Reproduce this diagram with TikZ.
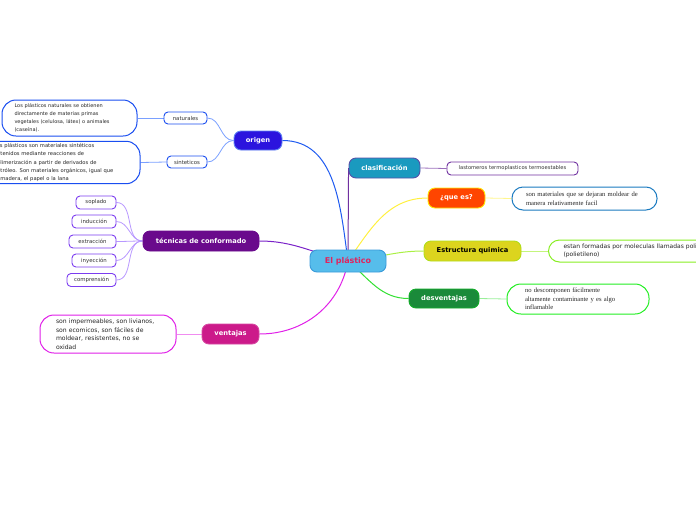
\documentclass[tikz,border=0pt]{standalone}
\usepackage{fontspec}
\setmainfont{DejaVu Sans}
\newfontfamily\serifff{Liberation Serif}
\usetikzlibrary{backgrounds}
\definecolor{cElFill}{HTML}{56BDEB}
\definecolor{cElDraw}{HTML}{3A9AD9}
\definecolor{cElText}{HTML}{E0245E}
\definecolor{cOrig}{HTML}{2B14DE}
\definecolor{cOrigLine}{HTML}{1E5AF0}
\definecolor{cOrigSub}{HTML}{1A4EF0}
\definecolor{cOrigThin}{HTML}{7AA0FF}
\definecolor{cTec}{HTML}{6A0A8C}
\definecolor{cTecLine}{HTML}{7A22C8}
\definecolor{cTecSub}{HTML}{7B3CF0}
\definecolor{cTecThin}{HTML}{B898FF}
\definecolor{cVent}{HTML}{CC1A8A}
\definecolor{cVentLine}{HTML}{E020E8}
\definecolor{cVentThin}{HTML}{F08CF0}
\definecolor{cClas}{HTML}{1A9ABF}
\definecolor{cClasLine}{HTML}{7030A0}
\definecolor{cQue}{HTML}{FF4500}
\definecolor{cQueLine}{HTML}{FFF040}
\definecolor{cQueBox}{HTML}{1A7AC0}
\definecolor{cEst}{HTML}{DCD41E}
\definecolor{cEstLine}{HTML}{AAF044}
\definecolor{cEstBox}{HTML}{88EE22}
\definecolor{cDes}{HTML}{1A8A3A}
\definecolor{cDesLine}{HTML}{33E033}
\definecolor{cDesBox}{HTML}{22EE22}
\tikzset{
  mainnode/.style={rounded corners=7pt, draw, line width=0.9pt, text=white,
    font=\bfseries\fontsize{6.7}{8}\selectfont, inner sep=0pt, minimum height=20pt},
  subnode/.style={rounded corners=4pt, draw, line width=0.9pt, fill=white, text=black!80,
    font=\fontsize{5.4}{6}\selectfont, inner sep=0pt, minimum height=13pt},
  textbox/.style={rounded corners=14pt, draw, line width=1pt, fill=white, text=black!85,
    align=left, inner ysep=2pt},
  link/.style={line width=1pt},
  thin/.style={line width=0.8pt}
}
\begin{document}
\begin{tikzpicture}[x=1pt,y=-1pt]
\useasboundingbox (0,0) rectangle (696,520);
% central
\node[mainnode, fill=cElFill, draw=cElDraw, text=cElText, minimum width=76pt, minimum height=22pt,
  font=\bfseries\fontsize{8}{9}\selectfont] (el) at (348,261) {El plástico};
% left main
\node[mainnode, fill=cOrig, draw=cOrigSub!70, minimum width=48pt, minimum height=19pt] (orig) at (258,140.5) {origen};
\node[mainnode, fill=cTec, draw=cTec, minimum width=116pt] (tec) at (201,241) {técnicas de conformado};
\node[mainnode, fill=cVent, draw=cVent!80!white, minimum width=57pt] (vent) at (230.5,334) {ventajas};
% right main
\node[mainnode, fill=cClas, draw=cClasLine!70!cClas, minimum width=71pt] (clas) at (384.5,168) {clasificación};
\node[mainnode, fill=cQue, draw=yellow!90!orange, minimum width=57pt] (que) at (456.5,198) {¿que es?};
\node[mainnode, fill=cEst, draw=cEst!80!green, text=black, minimum width=97pt] (est) at (472.5,251) {Estructura quimica};
\node[mainnode, fill=cDes, draw=cDes!70!green, minimum width=70pt, minimum height=19pt] (des) at (444,298.5) {desventajas};
% origen children
\node[subnode, draw=cOrigSub, minimum width=43pt, minimum height=12pt] (nat) at (185.5,118) {naturales};
\node[subnode, draw=cOrigSub, minimum width=40pt, minimum height=12pt] (sin) at (187,162) {sinteticos};
\node[textbox, draw=cOrigSub, text width=110pt, inner xsep=12.5pt, minimum height=36pt,
  font=\fontsize{5}{8}\selectfont] (natx) at (69.5,118) {Los plásticos naturales se obtienen\\directamente de materias primas\\vegetales (celulosa, látex) o animales\\(caseína).};
\node[textbox, draw=cOrigSub, text width=132pt, inner xsep=14pt, minimum height=39pt,
  font=\fontsize{5.2}{8.3}\selectfont] (sinx) at (60,162.5) {Los plásticos son materiales sintéticos\\obtenidos mediante reacciones de\\polimerización a partir de derivados de\\petróleo. Son materiales orgánicos, igual que\\la madera, el papel o la lana};
% técnicas children
\node[subnode, draw=cTecSub, minimum width=40pt] (sop) at (96,202.5) {soplado};
\node[subnode, draw=cTecSub, minimum width=44pt] (ind) at (94,221.5) {inducción};
\node[subnode, draw=cTecSub, minimum width=47pt] (ext) at (92.5,241.5) {extracción};
\node[subnode, draw=cTecSub, minimum width=44pt] (iny) at (94,260.5) {inyección};
\node[subnode, draw=cTecSub, minimum width=49pt] (com) at (91.5,280) {comprensión};
% ventajas child
\node[textbox, draw=cVentLine, text width=104pt, inner xsep=16pt, minimum height=38pt,
  font=\fontsize{6.1}{8.5}\selectfont] (ventx) at (108,334) {son impermeables, son livianos,\\son ecomicos, son fáciles de\\moldear, resistentes, no se\\oxidad};
% right children
\node[subnode, draw=cClasLine, minimum width=131pt, font=\fontsize{5.2}{6}\selectfont] (lasto) at (512.5,168.5) {lastomeros termoplasticos termoestables};
\node[textbox, draw=cQueBox, text width=117pt, inner xsep=14pt, minimum height=23pt, rounded corners=11pt,
  font=\serifff\fontsize{6.6}{8.5}\selectfont] (quex) at (584.5,198.5) {son materiales que se dejaran moldear de\\manera relativamente facil};
\node[textbox, draw=cEstBox, text width=180pt, inner xsep=15pt, minimum height=22pt, rounded corners=11pt,
  anchor=west, font=\fontsize{6}{8}\selectfont] (estx) at (548,251) {estan formadas por moleculas llamadas polimeros\\(polietileno)};
\node[textbox, draw=cDesBox, text width=106pt, inner xsep=18pt, minimum height=30pt,
  font=\serifff\fontsize{6.6}{8.3}\selectfont] (desx) at (578,299) {no descomponen fácilmente\\altamente contaminante y es algo\\inflamable};
% connectors
\begin{scope}[on background layer]
\draw[link, cOrigLine] (el.center) to[out=98,in=0] (orig.east);
\draw[link, cTecLine] (el.center) to[out=168,in=0] (tec.east);
\draw[link, cVentLine] (el.center) to[out=-100,in=0] (vent.east);
\draw[link, cClasLine] (el.center) -- (clas.west);
\draw[link, cQueLine] (el.center) to[out=55,in=180] (que.west);
\draw[link, cEstLine] (el.center) to[out=5,in=180] (est.west);
\draw[link, cDesLine] (el.center) to[out=-40,in=180] (des.west);
\draw[thin, cOrigThin] (orig.west) to[out=180,in=0] (nat.east);
\draw[thin, cOrigThin] (orig.west) to[out=180,in=0] (sin.east);
\draw[thin, cOrigThin] (nat.west) -- (natx.east);
\draw[thin, cOrigThin] (sin.west) -- (sinx.east);
\foreach \c in {sop,ind,ext,iny,com}
  \draw[thin, cTecThin] (tec.west) to[out=180,in=0] (\c.east);
\draw[thin, cVentThin] (vent.west) -- (ventx.east);
\draw[thin, cClasLine!70] (clas.east) -- (lasto.west);
\draw[thin, cQueLine!60] (que.east) -- (quex.west);
\draw[thin, cEstLine!70] (est.east) -- (estx.west);
\draw[thin, cDesLine!50] (des.east) -- (desx.west);
\end{scope}
\end{tikzpicture}
\end{document}
